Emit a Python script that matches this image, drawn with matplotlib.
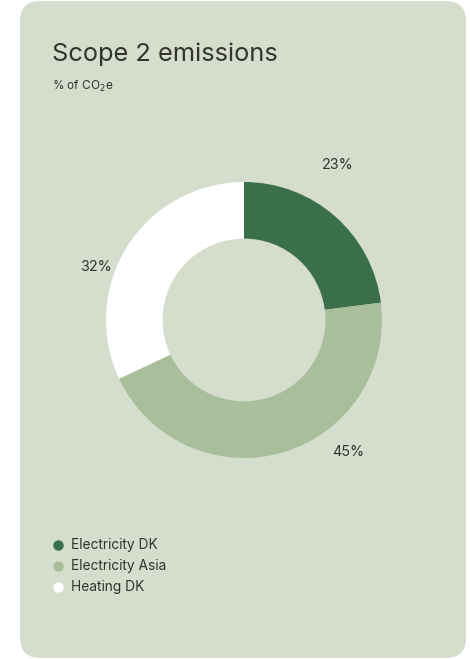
import matplotlib
matplotlib.use("Agg")
import matplotlib.pyplot as plt
from matplotlib.patches import FancyBboxPatch
from matplotlib.lines import Line2D

categories = ["Electricity DK", "Electricity Asia", "Heating DK"]
values = [23, 45, 32]
labels = ["23%", "45%", "32%"]
colors = ["#3a6f4a", "#a9bf9c", "#ffffff"]

W, H = 470, 659
fig = plt.figure(figsize=(W / 100, H / 100), dpi=100)
fig.patch.set_facecolor("white")
plt.rcParams['font.family'] = ['Inter', 'DejaVu Sans']
txt = "#35332f"

# card background
card = FancyBboxPatch((20 / W, 1 / H), 446 / W, 657 / H,
                      boxstyle="round,pad=0,rounding_size=0.043",
                      transform=fig.transFigure, facecolor="#d5ddcd",
                      edgecolor="none", mutation_aspect=W / H, zorder=-10)
fig.patches.append(card)

fig.text(52 / W, 1 - 61 / H, "Scope 2 emissions", fontsize=18.3, color=txt, va="baseline")
fig.text(52 / W, 1 - 90 / H, "% of CO$_2$e", fontsize=8.5, color=txt, va="baseline")

cx, cy, r = 244, 320, 138
ax = fig.add_axes([(cx - r) / W, (H - cy - r) / H, 2 * r / W, 2 * r / H])
ax.set_zorder(5)
ax.patch.set_visible(False)
ax.pie(values, colors=colors, startangle=90, counterclock=False, radius=1,
       wedgeprops=dict(width=0.41, edgecolor="none"))
ax.set_xlim(-1, 1)
ax.set_ylim(-1, 1)
ax.axis("off")

label_pos = [(0.68, 1.12), (0.755, -0.96), (-1.07, 0.385)]
for lab, (lx, ly) in zip(labels, label_pos):
    ax.text(lx, ly, lab, ha="center", va="center", fontsize=10.3, color=txt, clip_on=False)

# legend
for i, (cat, col) in enumerate(zip(categories, colors)):
    ypx = 545 + 21 * i
    y = 1 - ypx / H
    fig.add_artist(Line2D([58 / W], [y], marker="o", markersize=7.5, color=col,
                          markeredgecolor="none", linestyle="none",
                          transform=fig.transFigure))
    fig.text(71 / W, y, cat, fontsize=9.9, color=txt, ha="left", va="center")

fig.savefig("out.png", dpi=100)
